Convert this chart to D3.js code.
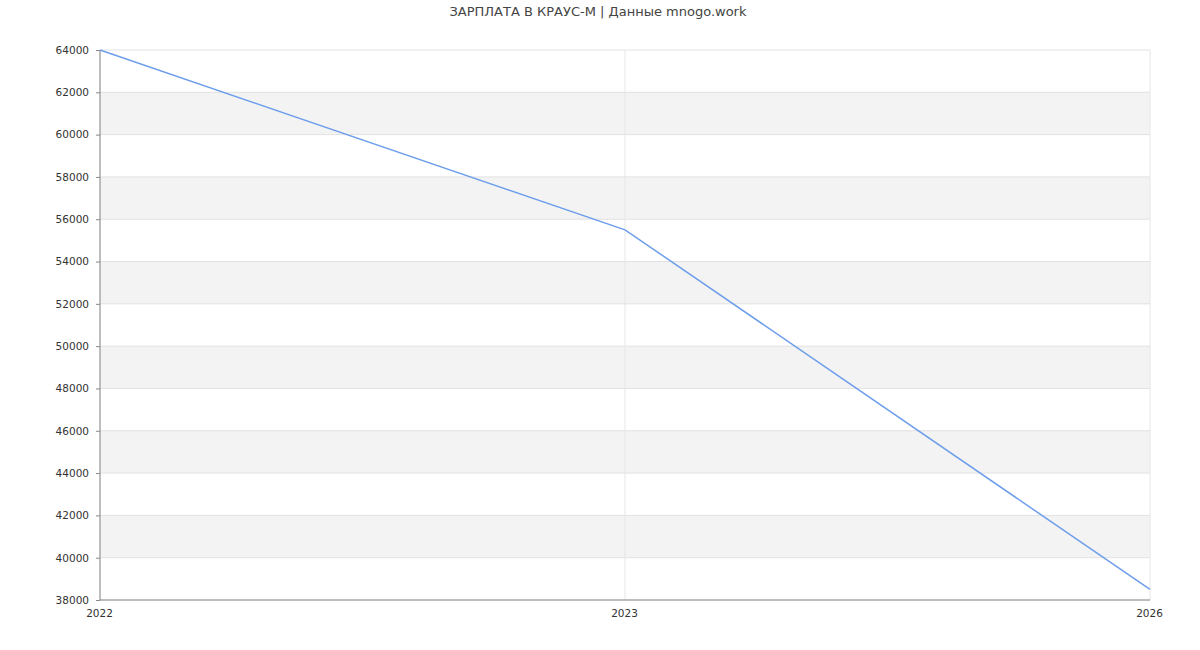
<!DOCTYPE html>
<html><head><meta charset="utf-8">
<script src="https://cdn.jsdelivr.net/npm/d3@7"></script>
<style>body{margin:0;background:#fff;font-family:"DejaVu Sans",sans-serif}</style>
</head><body><svg id="c" width="1200" height="650"></svg>
<script>
const title = "ЗАРПЛАТА В КРАУС-М | Данные mnogo.work";
const categories = ["2022","2023","2026"];
const values = [64000, 55500, 38500];
const yTicks = d3.range(38000, 64001, 2000);

const svg = d3.select("#c");
const m = {l:100, r:1150, t:50, b:600};
const x = d3.scalePoint().domain(categories).range([m.l, m.r]);
const y = d3.scaleLinear().domain([38000, 64000]).range([m.b, m.t]);

for (let v = 38000; v < 64000; v += 2000) {
  const idx = (v - 38000) / 2000;
  if (idx % 2 === 1) {
    svg.append("rect").attr("x", m.l).attr("width", m.r - m.l)
      .attr("y", y(v + 2000)).attr("height", y(v) - y(v + 2000)).attr("fill", "#f3f3f3");
  }
}
svg.selectAll(".hg").data(yTicks).enter().append("line")
  .attr("x1", m.l).attr("x2", m.r).attr("y1", d => y(d)).attr("y2", d => y(d))
  .attr("stroke", "#e2e2e2");
svg.selectAll(".vg").data(categories).enter().append("line")
  .attr("x1", d => x(d)).attr("x2", d => x(d)).attr("y1", m.t).attr("y2", m.b)
  .attr("stroke", "#e6e6e6");

const ya = svg.append("g").attr("transform", `translate(${m.l},0)`)
  .call(d3.axisLeft(y).tickValues(yTicks).tickSize(4).tickFormat(d3.format("d")));
const xa = svg.append("g").attr("transform", `translate(0,${m.b})`)
  .call(d3.axisBottom(x).tickSize(0));
[ya, xa].forEach(g => {
  g.selectAll("path,line").attr("stroke", "#888");
  g.selectAll("text").attr("fill", "#333").style("font-size", "10.5px").style("font-family", "DejaVu Sans");
});
ya.select(".domain").attr("d", `M0,${m.t}V${m.b}`);
xa.select(".domain").attr("d", `M${m.l},0H${m.r}`);
ya.selectAll("text").attr("x", -11);
xa.selectAll("text").attr("y", 10).attr("dx", -1);

svg.append("path").datum(values)
  .attr("fill", "none").attr("stroke", "#6d9eeb").attr("stroke-width", 1.5)
  .attr("d", d3.line().x((d, i) => x(categories[i])).y(d => y(d)));

svg.append("text").attr("x", 598).attr("y", 16).attr("text-anchor", "middle")
  .attr("fill", "#444").style("font-size", "13px").text(title);
</script></body></html>
